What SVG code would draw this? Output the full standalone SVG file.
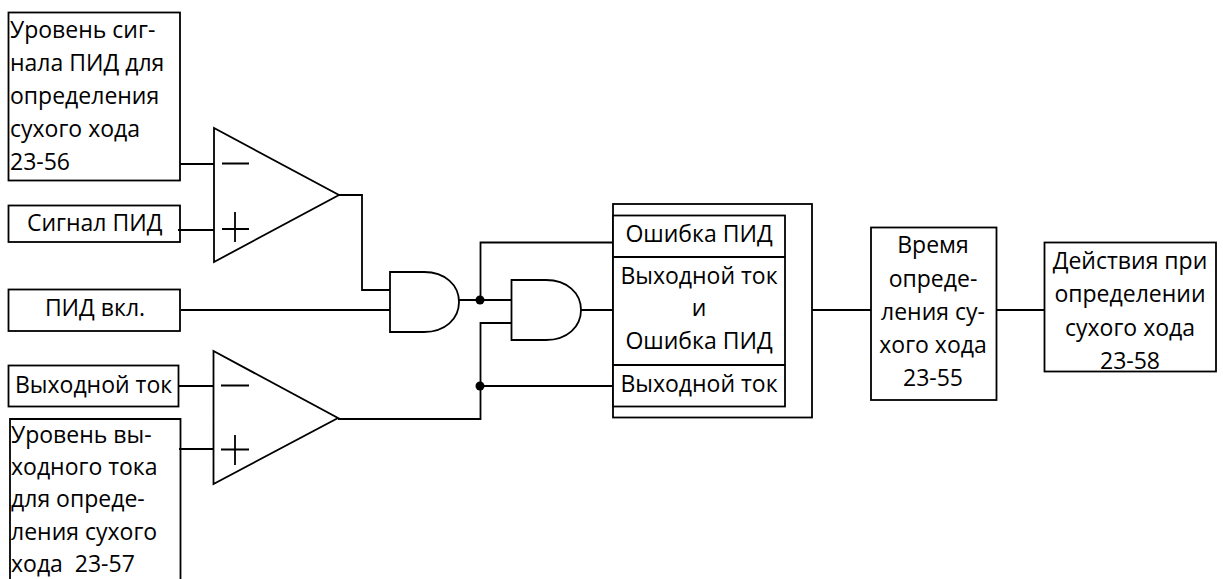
<svg xmlns="http://www.w3.org/2000/svg" width="1223" height="579" viewBox="0 0 1223 579">
<style>
.s{fill:#fff;stroke:#000;stroke-width:1.8}
.l{fill:none;stroke:#000;stroke-width:1.8}
text{font-family:"Open Sans","Liberation Sans",sans-serif;font-size:23px;fill:#000}
.m{text-anchor:middle}
</style>
<rect width="1223" height="579" fill="#fff"/>
<g id="box-23-56"><rect class="s" x="8.500" y="12.500" width="171.500" height="168"/>
<text x="10" y="38">Уровень сиг-</text><text x="10" y="71">нала ПИД для</text><text x="10" y="104">определения</text><text x="10" y="137">сухого хода</text><text x="10" y="170">23-56</text></g>
<g id="box-pid-signal"><rect class="s" x="8.500" y="205.500" width="171.500" height="36.500"/><text x="27" y="231">Сигнал ПИД</text></g>
<g id="box-pid-on"><rect class="s" x="8.500" y="289.500" width="171.500" height="41.500"/><text x="95" y="316" class="m">ПИД вкл.</text></g>
<g id="box-current"><rect class="s" x="8.500" y="365.500" width="170" height="41"/><text x="15" y="393">Выходной ток</text></g>
<g id="box-23-57"><path class="s" d="M10 585V419H180.500V585"/>
<text x="11" y="443">Уровень вы-</text><text x="11" y="475">ходного тока</text><text x="11" y="507">для опреде-</text><text x="11" y="540">ления сухого</text><text x="11" y="572" xml:space="preserve">хода  23-57</text></g>
<g id="comparator-1"><path class="s" d="M214 128V262L339 195Z"/><path class="l" d="M222 163.500H249M222 229H249M235 212V242"/></g>
<g id="comparator-2"><path class="s" d="M213.500 351V484L338 418Z"/><path class="l" d="M221 385.500H249M221 449.500H249M235 435V465"/></g>
<g id="and-1"><path class="s" d="M390 272H424C445 272 459 285 459 302C459 319 445 332 424 332H390Z"/></g>
<g id="and-2"><path class="s" d="M511.500 280H546C567 280 581 293 581 310C581 327 567 340 546 340H511.500Z"/></g>
<g id="outer-box"><rect class="s" x="613" y="204" width="199" height="213.500"/></g>
<g id="status-box"><rect class="s" x="613" y="215.500" width="172" height="191"/><path class="l" d="M613 257H785M613 365H785"/>
<text x="699" y="242" class="m">Ошибка ПИД</text><text x="699" y="284" class="m">Выходной ток</text><text x="699" y="316" class="m">и</text><text x="699" y="349" class="m">Ошибка ПИД</text><text x="699" y="392" class="m">Выходной ток</text></g>
<g id="box-23-55"><rect class="s" x="871" y="227.500" width="125.500" height="172.500"/>
<text x="933" y="253" class="m">Время</text><text x="933" y="287" class="m">опреде-</text><text x="933" y="320" class="m">ления су-</text><text x="933" y="353" class="m">хого хода</text><text x="933" y="386" class="m">23-55</text></g>
<g id="box-23-58"><rect class="s" x="1044.500" y="242.500" width="171.500" height="129"/>
<text x="1130" y="269" class="m">Действия при</text><text x="1130" y="302" class="m">определении</text><text x="1130" y="336" class="m">сухого хода</text><text x="1130" y="369" class="m">23-58</text></g>
<g id="connectors" class="l">
<path d="M180 164H214M178 230H214M179 386H213M179 449H213"/>
<path d="M339 195H362V290H390M181 310H390M459 300H511M480.500 300V242.500H613M338 419H480.500V323H511M480.500 386H613M581 310H613M812 310H871M997 310H1044"/>
</g>
<g id="junctions"><circle cx="480" cy="300" r="4.500"/><circle cx="480" cy="386" r="4.500"/></g>
</svg>
